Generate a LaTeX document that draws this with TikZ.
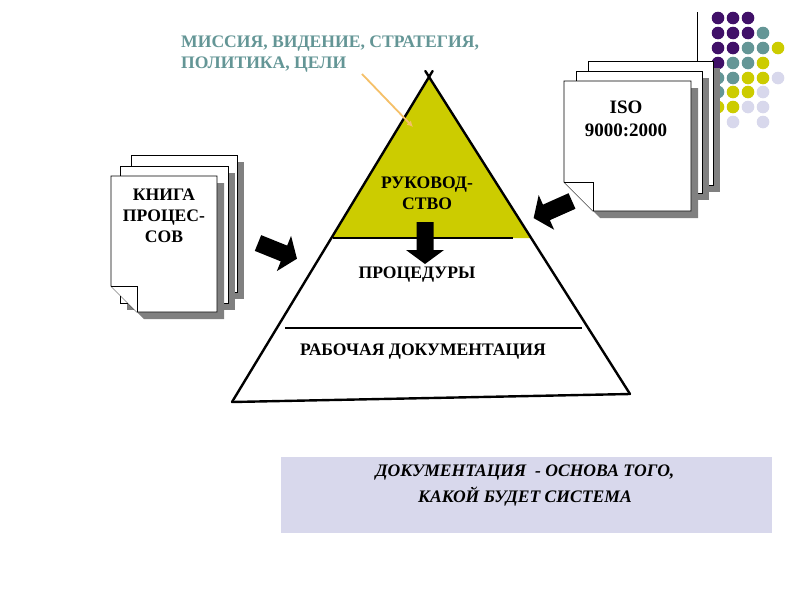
\documentclass[tikz,border=0pt]{standalone}
\usepackage{fontspec}
\setmainfont{Liberation Serif}
\usetikzlibrary{positioning,arrows.meta}

\definecolor{olivey}{RGB}{204,204,0}
\definecolor{tealgray}{RGB}{100,150,150}
\definecolor{darkpurple}{RGB}{64,16,104}
\definecolor{lavender}{RGB}{216,216,236}
\definecolor{sheetshadow}{RGB}{128,128,128}
\definecolor{pointer}{RGB}{245,192,104}

\tikzset{
  sheet/.style={draw=black, line width=0.9pt, fill=white},
  shade/.style={fill=sheetshadow},
  caption/.style={font=\bfseries\fontsize{17.6}{21}\selectfont, align=center, inner sep=0pt},
  pyr/.style={line width=2.4pt, line cap=round},
}

% one sheet of a stack, with its shadow
\newcommand{\docsheet}[4]{%
  \fill[shade] (#1+7,#2+7) rectangle (#3+7,#4+7);
  \draw[sheet] (#1,#2) rectangle (#3,#4);}
% front sheet with a folded corner
\newcommand{\docfront}[5]{%
  \fill[shade] (#1+7,#2+7) -- (#3+7,#2+7) -- (#3+7,#4+7) -- (#1+#5+7,#4+7) -- (#1+7,#4-#5+7) -- cycle;
  \draw[sheet] (#1,#2) -- (#3,#2) -- (#3,#4) -- (#1+#5,#4) -- (#1,#4-#5) -- cycle;
  \draw[sheet] (#1,#4-#5) -- (#1+#5,#4-#5) -- (#1+#5,#4);}
% thick black arrow: tail point and angle
\newcommand{\fatarrow}[3]{%
  \fill[black, shift={(#1,#2)}, rotate=#3]
    (0,-8.5) -- (28,-8.5) -- (28,-19) -- (42,0) -- (28,19) -- (28,8.5) -- (0,8.5) -- cycle;}

\begin{document}
\begin{tikzpicture}[x=1pt,y=-1pt]
    \fill[white] (0,0) rectangle (800,600);
    \useasboundingbox (0,0) rectangle (800,600);

    % Dots in the upper right corner
    \foreach \cx/\cy/\cc in {
        718/18/darkpurple, 733/18/darkpurple, 748/18/darkpurple,
        718/33/darkpurple, 733/33/darkpurple, 748/33/darkpurple, 763/33/tealgray,
        718/48/darkpurple, 733/48/darkpurple, 748/48/tealgray, 763/48/tealgray, 778/48/olivey,
        718/63/darkpurple, 733/63/tealgray, 748/63/tealgray, 763/63/olivey,
        718/78/tealgray, 733/78/tealgray, 748/78/olivey, 763/78/olivey, 778/78/lavender,
        718/92/tealgray, 733/92/olivey, 748/92/olivey, 763/92/lavender,
        718/107/olivey, 733/107/olivey, 748/107/lavender, 763/107/lavender,
        733/122/lavender, 763/122/lavender}
    \fill[\cc] (\cx,\cy) circle (6.3);
    \draw[line width=0.8pt] (697,12) -- (697,62);

    % Stack "ISO"
    \docsheet{588}{61}{713}{185}
    \docsheet{576}{71}{702}{193}
    \docfront{564}{81}{691}{211}{29}
    \node[caption, font=\bfseries\fontsize{19}{23}\selectfont] (iso) at (626,119) {ISO\\9000:2000};

    % Stack "book of processes"
    \docsheet{131}{155}{237}{292}
    \docsheet{120}{166}{228}{303}
    \docfront{111}{176}{217}{312}{26}
    \node[caption] (book) at (164,216) {КНИГА\\ПРОЦЕС-\\СОВ};

    % Pyramid
    \fill[olivey] (429,77) -- (331.4,238) -- (531.1,238) -- cycle;
    \draw[pyr] (232,402) -- (432.6,71);
    \draw[pyr] (630,394) -- (425.3,71);
    \draw[pyr] (232,402) -- (630,394);
    \draw[line width=2.6pt] (333,238) -- (513,238);
    \draw[line width=2.6pt] (285,328) -- (582,328);
    \node[caption] (mgmt) at (427,193) {РУКОВОД-\\СТВО};
    \node[caption] (proc) at (417,275) {ПРОЦЕДУРЫ};
    \node[caption] (work) at (423,352) {РАБОЧАЯ ДОКУМЕНТАЦИЯ};

    % Black arrows into the pyramid
    \fatarrow{258}{243}{-22}
    \fatarrow{572}{201}{-156}
    \fatarrow{425}{222}{-90}

    % Mission label with its pointer
    \node[caption, anchor=west, align=left, text=tealgray] (mission) at (181,54)
        {МИССИЯ, ВИДЕНИЕ, СТРАТЕГИЯ,\\ПОЛИТИКА, ЦЕЛИ};
    \coordinate (pointtail) at (362,74);
    \coordinate (pointtip) at (413,127);
    \draw[pointer, line width=1.8pt, -{Latex[length=6pt,width=6pt]}] (pointtail) -- (pointtip);

    % Conclusion box
    \fill[lavender] (281,457) rectangle (772,533);
    \node[caption, font=\bfseries\itshape\fontsize{17.6}{26}\selectfont] (sumup) at (525,486)
        {ДОКУМЕНТАЦИЯ\ \ - ОСНОВА ТОГО,\\КАКОЙ БУДЕТ СИСТЕМА};
\end{tikzpicture}
\end{document}
